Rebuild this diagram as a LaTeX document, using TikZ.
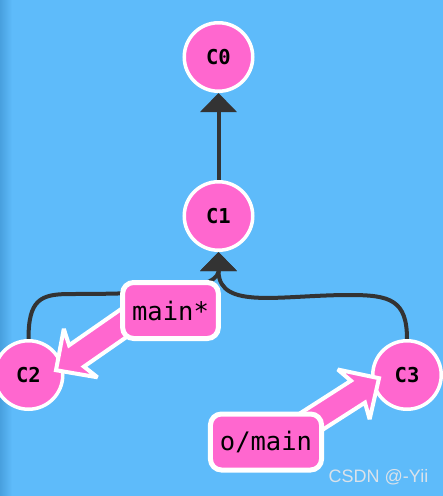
\documentclass[tikz,border=0pt]{standalone}
\usepackage{fontspec}
\newfontfamily\monofont{DejaVu Sans Mono}
\newfontfamily\wmfont{Liberation Sans}
\usetikzlibrary{calc,arrows.meta}
\pgfdeclarelayer{bg}
\pgfdeclarelayer{edges}
\pgfsetlayers{bg,edges,main}
\definecolor{bgblue}{RGB}{94,187,250}
\definecolor{bgedge}{RGB}{72,160,222}
\definecolor{cpink}{RGB}{255,103,207}
\definecolor{edgegray}{RGB}{51,51,51}
\definecolor{wmgray}{RGB}{218,226,234}
\tikzset{
  commit/.style={circle, fill=cpink, draw=white, line width=3.5pt, minimum size=68.5pt, inner sep=0pt,
    font=\monofont\bfseries\fontsize{20.5}{24}\selectfont, text=black},
  branch/.style={rectangle, rounded corners=11pt, fill=cpink, draw=white, line width=5pt,
    minimum height=56pt, inner xsep=9.5pt, font=\monofont\fontsize{25.5}{30}\selectfont, text=black},
  parent/.style={draw=edgegray, line width=4pt, -{Triangle[width=36pt,length=19pt]}},
  ptr/.style={fill=cpink, draw=white, line width=4pt, line join=miter, miter limit=4},
}
\newcommand\fatptr[2]{%
  \coordinate (#1n) at ($(#1)!25pt!(#2)$);
  \coordinate (#1w) at ($(#1)!30pt!(#2)$);
  \path[ptr] ($(#2)!13pt!90:(#1)$) -- ($(#1n)!13pt!90:(#1)$) -- ($(#1w)!29.5pt!90:(#1)$) -- (#1)
    -- ($(#1w)!29.5pt!-90:(#1)$) -- ($(#1n)!13pt!-90:(#1)$) -- ($(#2)!13pt!-90:(#1)$) -- cycle;
}
\begin{document}
\begin{tikzpicture}[x=1pt,y=-1pt]
\useasboundingbox (0,0) rectangle (443,496);
\begin{pgfonlayer}{bg}
\fill[bgblue] (0,0) rectangle (443,496);
\shade[left color=bgedge, right color=bgblue] (0,0) rectangle (12,496);
\end{pgfonlayer}

% commits
\node[commit] (C0) at (218.5,57) {C0};
\node[commit] (C1) at (218.5,216) {C1};
\node[commit] (C2) at (28.5,375) {C2};
\node[commit] (C3) at (407,375) {C3};

% parent edges
\begin{pgfonlayer}{edges}
\coordinate (h1) at ($(C1.south)+(0,20)$);
\draw[parent] (C1.north) -- (C0.south);
\draw[parent] (C2.north) .. controls +(0,-39) and (40,294) .. (70,294)
  .. controls (140,294) and (214,292) .. (h1) -- (C1.south);
\draw[parent] (C3.north) .. controls +(0,-39) and (390,295) .. (350,295)
  .. controls (280,295) and (220,310) .. (h1) -- (C1.south);
\end{pgfonlayer}

% branch pointers
\coordinate (t2) at (56,370.2);
\coordinate (b2) at ($(t2)+(98.4,-68.4)$);
\coordinate (t3) at (379,378.2);
\coordinate (b3) at ($(t3)+(-101,64.7)$);
\fatptr{t2}{b2}
\fatptr{t3}{b3}

\node[branch] (m) at (170.5,310.5) {main*};
\node[branch] (o) at (266,442) {o/main};

\node[font=\wmfont\fontsize{18}{20}\selectfont, text=wmgray, anchor=center] (wm) at (378.5,477) {CSDN @-Yii};
\end{tikzpicture}
\end{document}
